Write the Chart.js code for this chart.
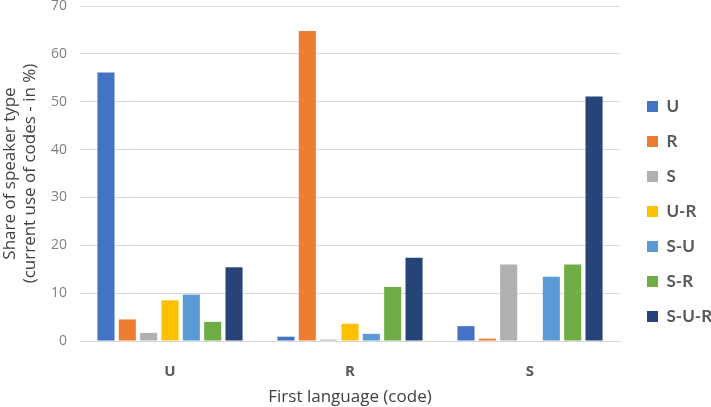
<!DOCTYPE html>
<html>
<head>
<meta charset="utf-8">
<script src="https://cdn.jsdelivr.net/npm/chart.js@4"></script>
<style>
    html, body { margin: 0; padding: 0; background: #fff; }
    #wrap { width: 711px; height: 407px; }
</style>
</head>
<body>
<div id="wrap"><canvas id="chart"></canvas></div>
<script>
// categories (first language)
const languages = ['U', 'R', 'S'];

// speaker types (series) and their values per first language, in %
const speakerTypes = ['U', 'R', 'S', 'U-R', 'S-U', 'S-R', 'S-U-R'];
const valuesU = [56.1, 4.5, 1.7, 8.5, 9.7, 4.0, 15.4];
const valuesR = [0.9, 64.8, 0.3, 3.6, 1.5, 11.3, 17.4];
const valuesS = [3.1, 0.5, 16.0, 0.0, 13.4, 16.0, 51.1];
const seriesColors = ['#4472C4', '#ED7D31', '#B0B0B0', '#FFC000', '#5B9BD5', '#70AD47', '#264478'];

const yTicks = [0, 10, 20, 30, 40, 50, 60, 70];

const byLanguage = [valuesU, valuesR, valuesS];

const datasets = speakerTypes.map((name, i) => ({
    label: name,
    data: byLanguage.map(v => v[i]),
    backgroundColor: seriesColors[i],
    borderWidth: 0,
    categoryPercentage: 0.83,
    barPercentage: 0.8
}));

const FONT = "'Open Sans', 'DejaVu Sans', sans-serif";

// legend sits a bit away from the plot, like the original
const legendWidth = {
    id: 'legendWidth',
    beforeInit(chart) {
        const legend = chart.legend;
        const fit = legend.fit.bind(legend);
        legend.fit = function () {
            fit();
            this.width = 91;
        };
    },
    afterLayout(chart) {
        chart.legend.left += 9;
        chart.legend.right += 9;
    }
};

new Chart(document.getElementById('chart').getContext('2d'), {
    type: 'bar',
    data: {
        labels: languages,
        datasets: datasets
    },
    plugins: [legendWidth],
    options: {
        responsive: true,
        maintainAspectRatio: false,
        animation: false,
        layout: {
            padding: { top: 6, right: 0, left: 0, bottom: 0 }
        },
        plugins: {
            tooltip: { enabled: false },
            legend: {
                position: 'right',
                align: 'center',
                title: { display: true, text: '', padding: 2, font: { size: 5 } },
                labels: {
                    color: '#595959',
                    boxWidth: 11,
                    boxHeight: 11,
                    padding: 18,
                    font: { family: "Lato, 'Open Sans', sans-serif", size: 17, weight: 'bold' }
                }
            }
        },
        scales: {
            x: {
                afterFit: scale => { scale.height = 66; },
                grid: { display: false },
                border: { display: true, color: '#d9d9d9', width: 1 },
                ticks: {
                    color: '#595959',
                    padding: 14,
                    font: { family: FONT, size: 15, weight: 'bold' }
                },
                title: {
                    display: true,
                    text: 'First language (code)',
                    color: '#404040',
                    padding: { top: 0, bottom: 0 },
                    font: { family: FONT, size: 17 }
                }
            },
            y: {
                min: 0,
                max: 70,
                afterBuildTicks: axis => { axis.ticks = yTicks.map(v => ({ value: v })); },
                afterFit: scale => {
                    scale.width = 80;
                    scale.paddingTop = 0;
                    scale.paddingBottom = 0;
                },
                grid: { color: '#d9d9d9', drawTicks: false },
                border: { display: false },
                ticks: {
                    color: '#7f7f7f',
                    padding: 13,
                    font: { family: FONT, size: 14 }
                },
                title: {
                    display: true,
                    text: ['Share of speaker type', '(current use of codes - in %)'],
                    color: '#404040',
                    padding: { top: 0, bottom: 0 },
                    font: { family: FONT, size: 17 }
                }
            }
        }
    }
});
</script>
</body>
</html>
